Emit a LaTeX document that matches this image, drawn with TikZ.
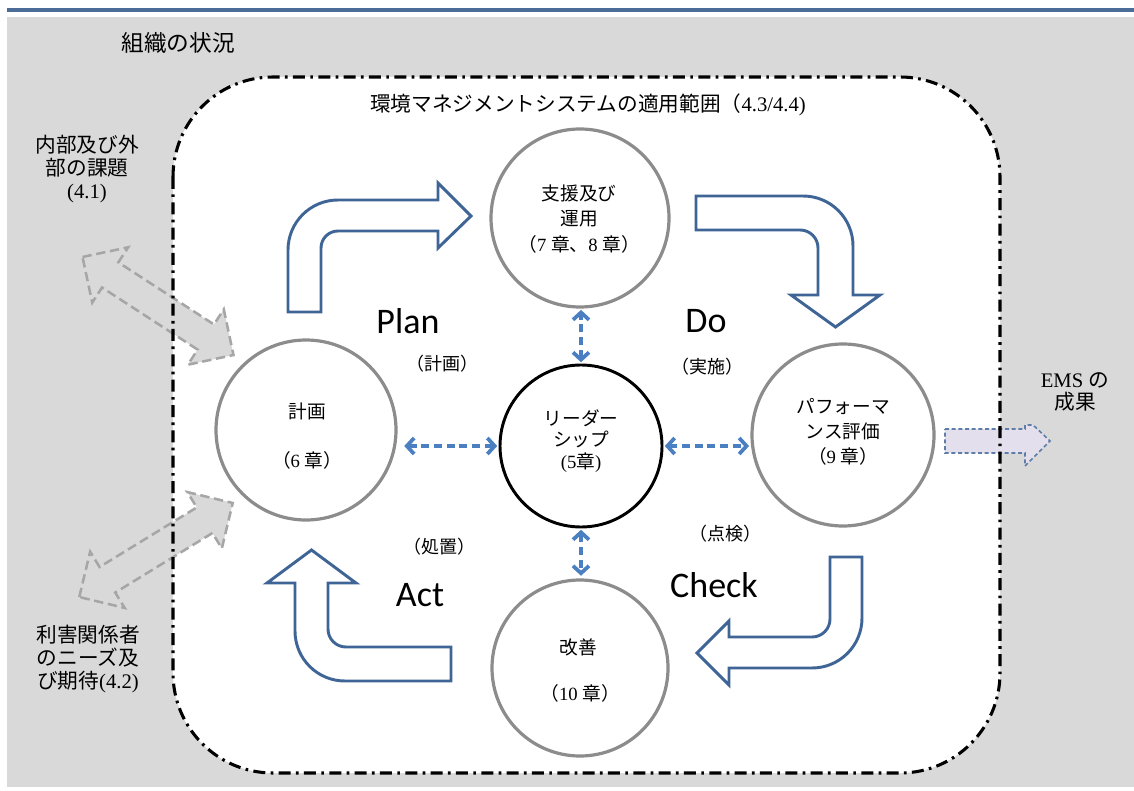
\documentclass[tikz,border=0pt]{standalone}
\usepackage{fontspec}
\setmainfont{Liberation Serif}
\newfontfamily\jp{Noto Sans CJK JP}
\newfontfamily\cb{Carlito}
\usetikzlibrary{arrows.meta}
\definecolor{bggray}{HTML}{D9D9D9}
\definecolor{topblue}{HTML}{4A6C97}
\definecolor{arrblue}{HTML}{3F6596}
\definecolor{dblue}{HTML}{4A7FC1}
\definecolor{cgray}{HTML}{8C8C8C}
\definecolor{agray}{HTML}{A6A6A6}
\definecolor{lav}{HTML}{E4DFEC}
\definecolor{lavline}{HTML}{5E7EA8}
\newcommand{\J}[1]{{\jp #1}}
\begin{document}
\begin{tikzpicture}[x=0.75pt,y=-0.75pt,
  ring/.style={circle, draw=cgray, line width=2.4pt, inner sep=0pt},
  leadring/.style={circle, draw=black, line width=2.2pt, inner sep=0pt},
  bigarrow/.style={draw=arrblue, line width=2.2pt, fill=white, line join=miter},
  grayarrow/.style={draw=agray, fill=bggray, line width=1.9pt, dash pattern=on 7pt off 3.5pt},
  ldash/.style={draw=dblue, line width=2.8pt, dash pattern=on 6pt off 3.5pt,
     arrows={Straight Barb[length=5.5pt,width=12pt]-Straight Barb[length=5.5pt,width=12pt]}},
  boundary/.style={draw=black, line width=2.3pt, dash pattern=on 9pt off 4pt on 2pt off 4pt, rounded corners=75pt},
  lbl/.style={inner sep=0pt, align=center, font=\fontsize{14}{19}\selectfont},
  sub/.style={inner sep=0pt, font=\fontsize{13.5}{16}\selectfont},
  side/.style={inner sep=0pt, align=center, font=\fontsize{15.5}{17}\selectfont},
  pdca/.style={inner sep=0pt, font=\cb\fontsize{27}{30}\selectfont}
]
\useasboundingbox (0,0) rectangle (1134,791);
% background
\fill[bggray] (7,17) rectangle (1134,787);
\draw[topblue, line width=3pt] (7,10) -- (1134,10);
\fill[white, rounded corners=75pt] (173,77) rectangle (1000,773);

% gray double arrows
\begin{scope}[shift={(158,306)}, rotate=-33]
  \draw[grayarrow] (-90,0) -- (-57,-33) -- (-57,-15) -- (57,-15) -- (57,-33) -- (90,0)
     -- (57,33) -- (57,15) -- (-57,15) -- (-57,33) -- cycle;
\end{scope}
\begin{scope}[shift={(156,550)}, rotate=31.5]
  \draw[grayarrow] (-90,0) -- (-57,-33) -- (-57,-15) -- (57,-15) -- (57,-33) -- (90,0)
     -- (57,33) -- (57,15) -- (-57,15) -- (-57,33) -- cycle;
\end{scope}

% EMS outcome arrow
\draw[draw=lavline, fill=lav, line width=1.2pt, dash pattern=on 3pt off 2pt]
  (945,429) -- (1025,429) -- (1025,425) -- (1033,425) -- (1050,441) -- (1025,466)
  -- (1025,453) -- (945,453) -- cycle;

% boundary
\draw[boundary] (173,77) rectangle (1000,773);

% titles
\node[inner sep=0pt, font=\fontsize{17}{20}\selectfont] (ctx) at (178,43) {\J{組織の状況}};
\node[inner sep=0pt, font=\fontsize{15.5}{18}\selectfont] (scope) at (588,105)
  {\J{環境マネジメントシステムの適用範囲（}4.3/4.4)};
\node[side] (issues) at (87,169) {\J{内部及び外}\\\J{部の課題}\\(4.1)};
\node[side] (needs) at (88,659) {\J{利害関係者}\\\J{のニーズ及}\\\J{び期待}(4.2)};
\node[side] (ems) at (1075,392) {EMS \J{の}\\\J{成果}};

% bent PDCA arrows
\draw[bigarrow] (288,312) -- (288,250) to[out=90,in=180] (338,200) -- (438,200) -- (438,183)
  -- (471,216) -- (438,248) -- (438,231) -- (338,231) to[out=180,in=90] (321,248) -- (321,312) -- cycle;
\draw[bigarrow] (696,196) -- (803,196) to[out=0,in=90] (853,246) -- (853,295) -- (880,295)
  -- (835.5,327) -- (791,295) -- (818,295) -- (818,248) to[out=90,in=0] (800,230) -- (696,230) -- cycle;
\draw[bigarrow] (830,557) -- (862,557) -- (862,618) to[out=-90,in=0] (812,668) -- (729,668)
  -- (729,685) -- (697,653) -- (729,621) -- (729,637) -- (812,637) to[out=0,in=-90] (830,619) -- cycle;
\draw[bigarrow] (451,647) -- (451,681) -- (345,681) to[out=180,in=-90] (295,631) -- (295,583)
  -- (267,583) -- (311.5,550) -- (356,583) -- (328,583) -- (328,629) to[out=-90,in=180] (346,647) -- cycle;

% circles
\node[ring, minimum size=133.5pt] (sup) at (580,218) {};
\node[ring, minimum size=135pt] (plan) at (306,430) {};
\node[ring, minimum size=136.5pt] (perf) at (843,435) {};
\node[ring, minimum size=132pt] (kaizen) at (580,668) {};
\node[leadring, minimum size=121.5pt] (lead) at (581,446) {};

% circle texts
\node[lbl] (supt) at (579,219) {\J{支援及び}\\\J{運用}\\\J{（}7 \J{章、}8 \J{章）}};
\node[lbl] (plant1) at (307,411) {\J{計画}};
\node[lbl] (plant2) at (307,460) {\J{（}6 \J{章）}};
\node[lbl, font=\fontsize{14}{18.5}\selectfont] (perft) at (843,432) {\J{パフォーマ}\\\J{ンス評価}\\\J{（}9 \J{章）}};
\node[lbl] (kt1) at (578,647) {\J{改善}};
\node[lbl] (kt2) at (580,693) {\J{（}10 \J{章）}};
\node[lbl, font=\fontsize{14}{16}\selectfont] (leadt) at (581,441) {\J{リーダー}\\\J{シップ}\\(5\J{章})};

% leadership connectors
\draw[ldash, shorten <=1pt, shorten >=1pt] (lead.north) -- (lead.north |- sup.south);
\draw[ldash, shorten <=1pt, shorten >=2pt] (lead.south) -- (lead.south |- kaizen.north);
\draw[ldash, shorten <=1pt, shorten >=5pt] (lead.west) -- (lead.west -| plan.east);
\draw[ldash, shorten <=1pt, shorten >=1pt] (lead.east) -- (lead.east -| perf.west);

% PDCA labels
\node[pdca] (pl) at (408,321) {Plan};
\node[pdca] (dl) at (706,321) {Do};
\node[pdca] (cl) at (714,585) {Check};
\node[pdca] (al) at (420,595) {Act};
\node[sub] (pls) at (442,364) {\J{（計画）}};
\node[sub] (dls) at (707,367) {\J{（実施）}};
\node[sub] (cls) at (725,534) {\J{（点検）}};
\node[sub] (als) at (439,547) {\J{（処置）}};
\end{tikzpicture}
\end{document}
